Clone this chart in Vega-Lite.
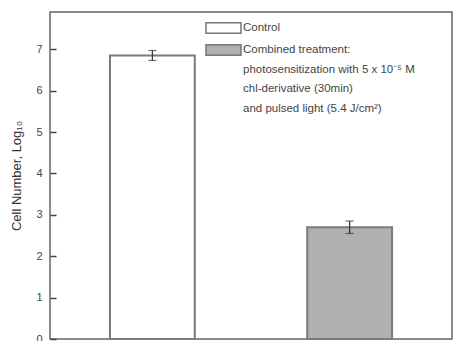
{
  "$schema": "https://vega.github.io/schema/vega-lite/v6.json",
  "width": 402,
  "height": 327,
  "autosize": {"type": "none"},
  "padding": {"left": 50, "top": 12, "right": 1, "bottom": 2},
  "background": "white",
  "config": {
    "view": {"stroke": "#666", "strokeWidth": 1.5},
    "font": "Liberation Sans"
  },
  "data": {
    "values": [
      {"group": "Control", "mean": 6.85, "lo": 6.73, "hi": 6.97},
      {"group": "Combined treatment:|photosensitization with 5 x 10⁻⁵ M|chl-derivative (30min)|and pulsed light (5.4 J/cm²)", "mean": 2.7, "lo": 2.55, "hi": 2.85}
    ]
  },
  "encoding": {
    "x": {
      "field": "group", "type": "nominal", "sort": null, "axis": null,
      "scale": {"paddingInner": 0.57, "paddingOuter": 0.304}
    }
  },
  "layer": [
    {
      "mark": {"type": "bar", "stroke": "#7a7a7a", "strokeWidth": 2},
      "encoding": {
        "y": {
          "field": "mean", "type": "quantitative",
          "scale": {"domain": [0, 7.9], "nice": false, "zero": true},
          "axis": {
            "orient": "left",
            "title": "Cell Number, Log₁₀",
            "titleFont": "Liberation Sans", "titleFontSize": 13, "titleFontWeight": "normal",
            "titleColor": "#333", "titlePadding": 12,
            "values": [0, 0.5, 1, 1.5, 2, 2.5, 3, 3.5, 4, 4.5, 5, 5.5, 6, 6.5, 7, 7.5],
            "labelExpr": "datum.value % 1 == 0 ? format(datum.value, 'd') : ''",
            "grid": false, "domain": false,
            "tickSize": -6, "tickColor": "#444", "tickWidth": 1.5,
            "labelFontSize": 11, "labelColor": "#444", "labelPadding": 14,
            "labelFont": "Liberation Sans"
          }
        },
        "fill": {
          "field": "group", "type": "nominal", "sort": null,
          "scale": {"range": ["#ffffff", "#b0b0b0"]},
          "legend": {
            "title": null,
            "orient": "none", "legendX": 155, "legendY": 10,
            "symbolType": "M-1,-0.3H1V0.3H-1Z",
            "symbolSize": 1225,
            "symbolStrokeColor": "#777", "symbolStrokeWidth": 1.5,
            "symbolOpacity": 1,
            "labelExpr": "split(datum.label, '|')",
            "labelFontSize": 11.5, "labelColor": "#444", "labelFont": "Liberation Sans",
            "labelLimit": 400, "labelOffset": 1, "rowPadding": 4,
            "encode": {
              "labels": {"update": {"lineHeight": {"value": 19.5}, "baseline": {"value": "top"}, "y": {"value": 0}}},
              "symbols": {"update": {"y": {"value": 6}}}
            }
          }
        }
      }
    },
    {
      "mark": {"type": "rule", "color": "#333", "strokeWidth": 1.2},
      "encoding": {
        "y": {"field": "lo", "type": "quantitative"},
        "y2": {"field": "hi"}
      }
    },
    {
      "mark": {"type": "tick", "color": "#333", "size": 8, "thickness": 1.2},
      "encoding": {"y": {"field": "lo", "type": "quantitative"}}
    },
    {
      "mark": {"type": "tick", "color": "#333", "size": 8, "thickness": 1.2},
      "encoding": {"y": {"field": "hi", "type": "quantitative"}}
    }
  ]
}
